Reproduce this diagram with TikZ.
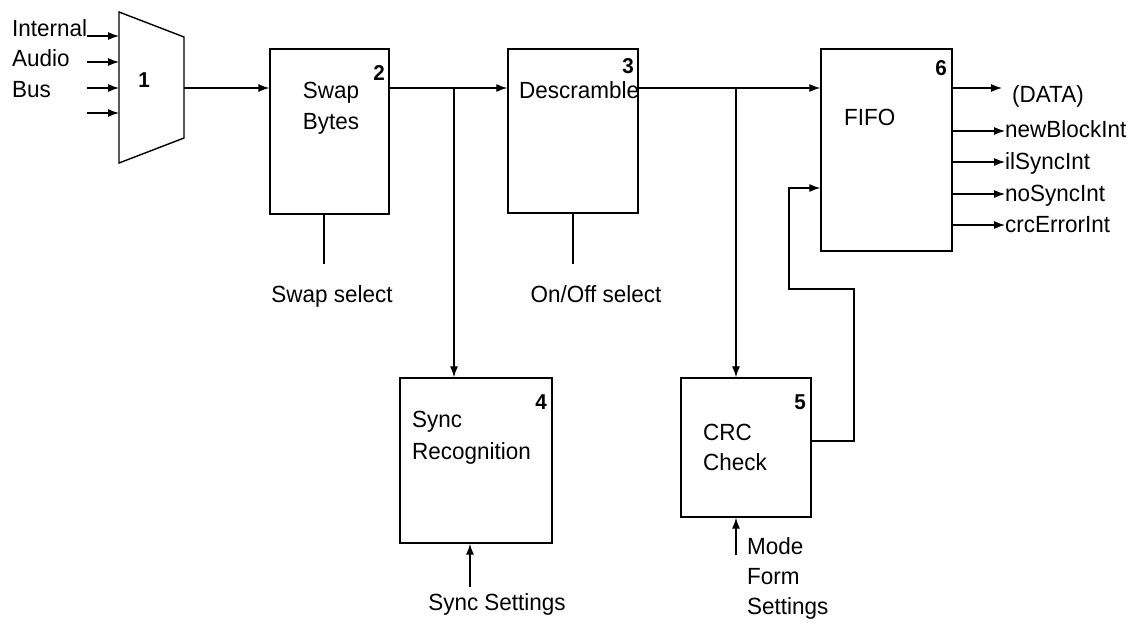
\documentclass[tikz,border=0pt]{standalone}
\usepackage{fontspec}
\setmainfont{Liberation Sans}[FakeStretch=0.96]
\usetikzlibrary{arrows.meta,positioning,calc}

\begin{document}
\begin{tikzpicture}[x=1pt, y=-1pt,
  every node/.style={font=\fontsize{23.4}{31}\selectfont, inner sep=0pt},
  blk/.style={draw, line width=1.4pt},
  num/.style={font=\bfseries\fontsize{21.5}{21.5}\selectfont},
  txt/.style={align=left, anchor=north west},
  wire/.style={line width=1.2pt},
  arr/.style={wire, -{Latex[length=11pt,width=8pt]}}]
  \useasboundingbox (0,0) rectangle (1138,623);

  % input mux
  \coordinate (mux-tl) at (119,12);
  \coordinate (mux-bl) at (119,163);
  \coordinate (mux-tr) at (184,37);
  \coordinate (mux-br) at (184,138);
  \draw[blk] (mux-tl) -- (mux-tr) -- (mux-br) -- (mux-bl) -- cycle;
  \node[num] (mux) at (144,80) {1};
  \node[txt] (busname) at (12,19) {Internal\\[-0.5pt]Audio\\Bus};
  \coordinate (in1) at (87,36);
  \coordinate (in2) at (87,62);
  \coordinate (in3) at (87,88);
  \coordinate (in4) at (87,113);
  \coordinate (mux-out) at (184,88);

  % processing blocks
  \node[blk, minimum width=119pt, minimum height=165pt] (swap) at (329.5,131.5) {};
  \node[blk, minimum width=130pt, minimum height=164pt] (desc) at (573,131) {};
  \node[blk, minimum width=152pt, minimum height=165pt] (sync) at (476,460.5) {};
  \node[blk, minimum width=130pt, minimum height=139pt] (crc) at (746,447.5) {};
  \node[blk, minimum width=131pt, minimum height=202pt] (fifo) at (886.5,150) {};

  \node[num] (n2) at (379,73) {2};
  \node[num] (n3) at (628,66) {3};
  \node[num] (n4) at (541,402) {4};
  \node[num] (n5) at (800,402) {5};
  \node[num] (n6) at (941,68) {6};

  \node[txt, align=center, anchor=north] (swaptxt) at (331,82) {Swap\\Bytes};
  \node[txt] (desctxt) at (519,81) {Descramble};
  \node[txt, font=\fontsize{23.4}{32}\selectfont] (synctxt) at (412,411) {Sync\\Recognition};
  \node[txt, font=\fontsize{23.4}{30}\selectfont] (crctxt) at (703,424) {CRC\\Check};
  \node[txt] (fifotxt) at (844,109) {FIFO};

  % control inputs
  \coordinate (swsel) at (324,264);
  \coordinate (onsel) at (573,264);
  \coordinate (syset) at (470,587);
  \coordinate (mdset) at (736,555);
  \node[anchor=base] (swseltxt) at (332,302) {Swap select};
  \node[anchor=base] (onseltxt) at (596,302) {On/Off select};
  \node[anchor=base] (sysettxt) at (497,610) {Sync Settings};
  \node[txt, font=\fontsize{23.4}{30}\selectfont] (mdsettxt) at (747,537) {Mode\\Form\\Settings};

  % outputs
  \coordinate (o0) at (1002,88);
  \coordinate (o1) at (1005,131);
  \coordinate (o2) at (1005,162);
  \coordinate (o3) at (1005,194);
  \coordinate (o4) at (1005,225);
  \node[anchor=base west] (data) at (1012,103) {(DATA)};
  \node[anchor=base west] (newblk) at ($(o1)+(0,7)$) {newBlockInt};
  \node[anchor=base west] (ilsync) at ($(o2)+(0,7)$) {ilSyncInt};
  \node[anchor=base west] (nosync) at ($(o3)+(0,7)$) {noSyncInt};
  \node[anchor=base west] (crcerr) at ($(o4)+(0,7)$) {crcErrorInt};

  % connections
  \foreach \i in {1,...,4}
    \draw[arr] (in\i) -- (in\i -| mux-tl);
  \draw[arr] (mux-out) -- (mux-out -| swap.west);
  \coordinate (br1) at (454,88);
  \coordinate (br2) at (736,88);
  \draw[arr] (br1 -| swap.east) -- (br1 -| desc.west);
  \draw[arr] (br1) -- (br1 |- sync.north);
  \draw[arr] (br2 -| desc.east) -- (br2 -| fifo.west);
  \draw[arr] (br2) -- (br2 |- crc.north);
  \draw[arr] ($(crc.east)+(0,-6.5)$) -| (854,289) -| (789,188) -- (fifo.west |- 0,188);

  \draw[wire] (swsel |- swap.south) -- (swsel);
  \draw[wire] (onsel |- desc.south) -- (onsel);
  \draw[arr] (syset) -- (syset |- sync.south);
  \draw[arr] (mdset) -- (mdset |- crc.south);

  \foreach \o in {o0,o1,o2,o3,o4}
    \draw[arr] (fifo.east |- \o) -- (\o);
\end{tikzpicture}
\end{document}
